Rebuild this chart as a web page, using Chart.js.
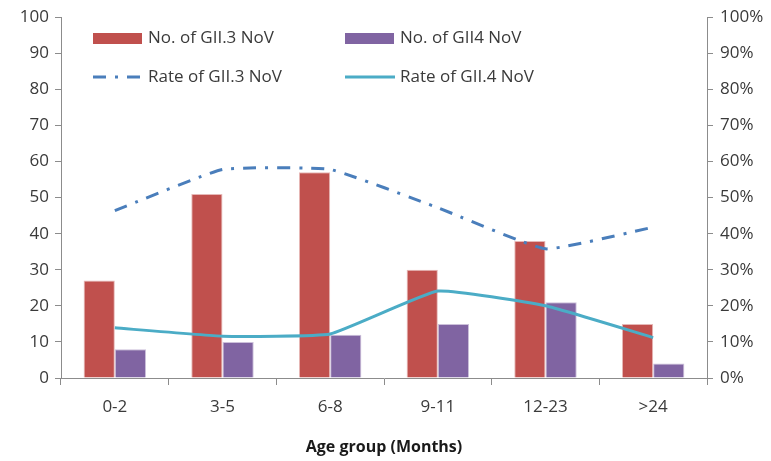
<!DOCTYPE html>
<html>
<head>
<meta charset="utf-8">
<script src="https://cdn.jsdelivr.net/npm/chart.js@4.4.0/dist/chart.umd.min.js"></script>
<style>
  html, body { margin: 0; padding: 0; background: #fff; }
  #wrap { width: 771px; height: 461px; }
</style>
</head>
<body>
<div id="wrap"><canvas id="chart" width="771" height="461"></canvas></div>
<script>
// age groups
var ageGroups = ['0-2', '3-5', '6-8', '9-11', '12-23', '>24'];

// counts (left axis)
var countGII3 = [27, 51, 57, 30, 38, 15];
var countGII4 = [8, 10, 12, 15, 21, 4];

// rates in % (right axis)
var rateGII3 = [46.4, 57.8, 57.8, 47.2, 35.8, 41.8];
var rateGII4 = [13.9, 11.6, 12.2, 24.1, 20.0, 11.2];

var leftTicks = [0, 10, 20, 30, 40, 50, 60, 70, 80, 90, 100];

var fontFam = "'Open Sans', 'DejaVu Sans', sans-serif";
var tickColor = '#3a3a3a';
var axisColor = '#8c8c8c';

// legend drawn inside the plot, two rows like the original
var legendPlugin = {
  id: 'boxLegend',
  afterDraw: function(chart) {
    var c = chart.ctx;
    var ds = chart.data.datasets;
    var spots = [
      { x: 93, y: 38 }, { x: 345, y: 38 },
      { x: 93, y: 77 }, { x: 345, y: 77 }
    ];
    c.save();
    c.font = '17px ' + fontFam;
    c.textBaseline = 'middle';
    ds.forEach(function(d, i) {
      var s = spots[i];
      if (d.type === 'bar') {
        c.fillStyle = d.backgroundColor;
        c.fillRect(s.x, s.y - 5, 49, 11);
      } else {
        c.strokeStyle = d.borderColor;
        c.lineWidth = d.borderWidth;
        c.setLineDash(d.borderDash || []);
        c.beginPath();
        c.moveTo(s.x, s.y);
        c.lineTo(s.x + 50, s.y);
        c.stroke();
        c.setLineDash([]);
      }
      c.fillStyle = tickColor;
      c.fillText(d.label, s.x + 55, s.y);
    });
    c.restore();
  }
};

var ctx = document.getElementById('chart');

var chart = new Chart(ctx, {
  type: 'bar',
  data: {
    labels: ageGroups,
    datasets: [
      {
        type: 'bar',
        label: 'No. of GII.3 NoV',
        data: countGII3,
        backgroundColor: '#c0504d',
        borderColor: '#e6b8b7',
        borderWidth: 1,
        yAxisID: 'y',
        order: 2,
        barPercentage: 1,
        categoryPercentage: 0.58
      },
      {
        type: 'bar',
        label: 'No. of GII4 NoV',
        data: countGII4,
        backgroundColor: '#8064a2',
        borderColor: '#ccc0da',
        borderWidth: 1,
        yAxisID: 'y',
        order: 2,
        barPercentage: 1,
        categoryPercentage: 0.58
      },
      {
        type: 'line',
        label: 'Rate of GII.3 NoV',
        data: rateGII3,
        borderColor: '#4a7ebb',
        borderWidth: 3,
        borderDash: [13, 9, 3, 9],
        pointRadius: 0,
        tension: 0.12,
        fill: false,
        yAxisID: 'y1',
        order: 1
      },
      {
        type: 'line',
        label: 'Rate of GII.4 NoV',
        data: rateGII4,
        borderColor: '#4bacc6',
        borderWidth: 3,
        pointRadius: 0,
        tension: 0.12,
        fill: false,
        yAxisID: 'y1',
        order: 1
      }
    ]
  },
  options: {
    responsive: false,
    animation: false,
    layout: { padding: { top: 16, left: 0, right: 0, bottom: 0 } },
    plugins: {
      legend: { display: false },
      tooltip: { enabled: false }
    },
    scales: {
      x: {
        offset: true,
        grid: { display: true, drawOnChartArea: false, offset: true, tickLength: 7, color: axisColor },
        border: { color: axisColor },
        ticks: { color: tickColor, font: { family: fontFam, size: 17 }, padding: 12 },
        title: {
          display: true,
          text: 'Age group (Months)',
          color: '#1a1a1a',
          font: { family: fontFam, size: 16, weight: 'bold' },
          padding: { top: 12 }
        },
        afterFit: function(s) { s.height = 83; }
      },
      y: {
        position: 'left',
        min: 0,
        max: 100,
        afterBuildTicks: function(s) {
          s.ticks = leftTicks.map(function(v) { return { value: v }; });
        },
        grid: { display: true, drawOnChartArea: false, tickLength: 6, color: axisColor },
        border: { color: axisColor },
        ticks: { color: tickColor, font: { family: fontFam, size: 17 }, padding: 6 },
        afterFit: function(s) { s.width = 61; }
      },
      y1: {
        position: 'right',
        min: 0,
        max: 100,
        afterBuildTicks: function(s) {
          s.ticks = leftTicks.map(function(v) { return { value: v }; });
        },
        grid: { display: true, drawOnChartArea: false, tickLength: 6, color: axisColor },
        border: { color: axisColor },
        ticks: {
          color: tickColor,
          font: { family: fontFam, size: 17 },
          padding: 7,
          callback: function(v) { return v + '%'; }
        },
        afterFit: function(s) { s.width = 64; }
      }
    }
  },
  plugins: [legendPlugin]
});
</script>
</body>
</html>
